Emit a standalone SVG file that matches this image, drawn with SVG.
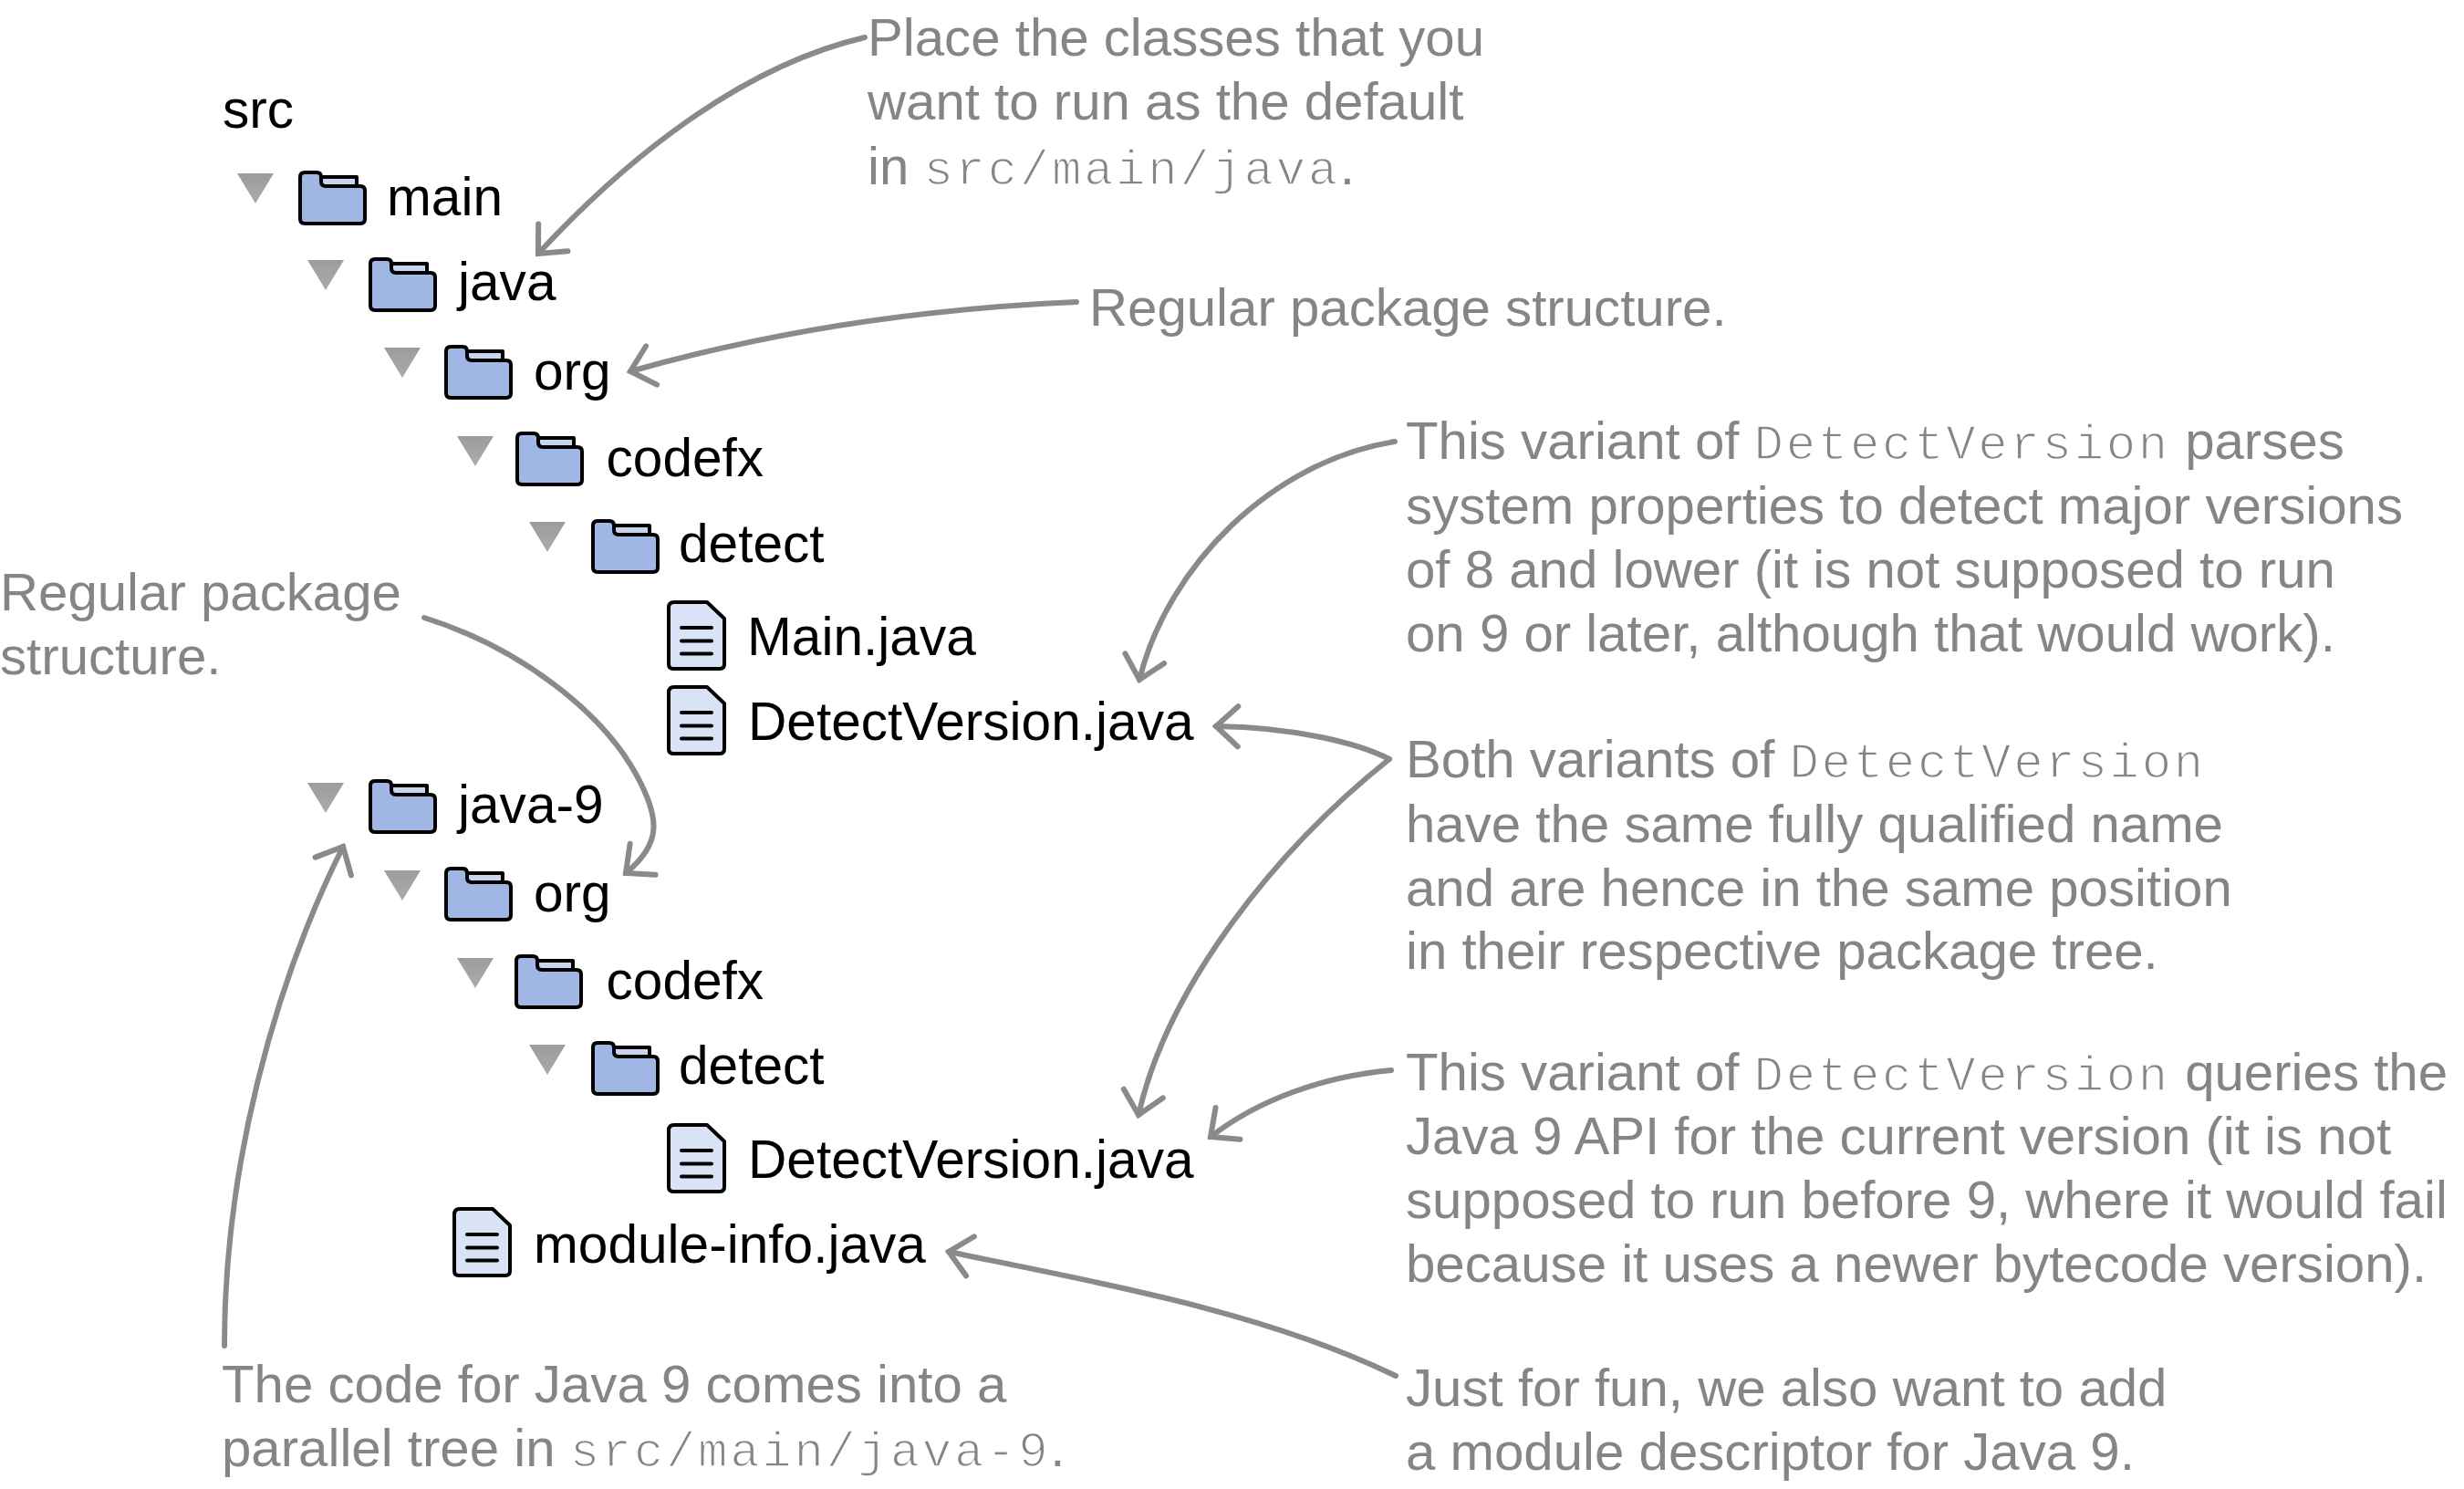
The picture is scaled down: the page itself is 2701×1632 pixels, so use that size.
<svg xmlns="http://www.w3.org/2000/svg" width="2701" height="1632" viewBox="0 0 2701 1632">
<style>
text{font-family:"Liberation Sans",Arial,sans-serif;font-size:58.2px}
.n{fill:#000;font-size:58.6px}
.a{fill:#858585}
.m{font-family:"Liberation Mono","Courier New",monospace;fill:#858585;stroke:#fff;stroke-width:1.500;font-size:54px;letter-spacing:2.700px}
.c{fill:none;stroke:#8a8a8a;stroke-width:6;stroke-linecap:round;marker-end:url(#h)}
.o{stroke:#000;stroke-width:4;stroke-linejoin:round}
</style>
<defs>
<marker id="h" markerUnits="userSpaceOnUse" markerWidth="60" markerHeight="60" refX="40" refY="30" orient="auto" viewBox="0 0 60 60"><path d="M16,8 L40,30 L16,52" fill="none" stroke="#8a8a8a" stroke-width="6" stroke-linecap="round" stroke-linejoin="miter"/></marker>
<linearGradient id="tg" x1="0" y1="0" x2="0" y2="1"><stop offset="0" stop-color="#9c9c9c"/><stop offset="1" stop-color="#ababab"/></linearGradient>
<g id="tri"><path d="M0,0H40L20,33Z" fill="url(#tg)"/></g>
<g id="folder">
<path class="o" d="M25,7H64V18H25Z" fill="#c9d5ef"/>
<path class="o" d="M7,2H20Q25,2 25,7V12Q25,17 30,17H68Q73,17 73,22V53Q73,58 68,58H7Q2,58 2,53V7Q2,2 7,2Z" fill="#a0b7e5"/>
</g>
<g id="file">
<path class="o" d="M8,2H44L63,20V70Q63,75 58,75H7Q2,75 2,70V8Q2,2 8,2Z" fill="#dae2f5"/>
<path d="M16,30H49M16,44.500H49M16,58.500H49" fill="none" stroke="#000" stroke-width="4" stroke-linecap="round"/>
</g>
</defs>
<rect width="2701" height="1632" fill="#fff"/>
<g id="connectors">
<path class="c" d="M948,41C815,72 690,170 590,278"/>
<path class="c" d="M1180,331C1015,338 850,362 691,407"/>
<path class="c" d="M1529,484C1395,505 1280,620 1249,745"/>
<path class="c" d="M1523,832C1490,815 1420,797 1333,796"/>
<path class="c" d="M1523,832C1400,930 1280,1080 1248,1222"/>
<path class="c" d="M1525,1173C1450,1180 1380,1205 1327,1246"/>
<path class="c" d="M1530,1508C1390,1440 1225,1410 1040,1372"/>
<path class="c" d="M246,1475C246,1280 300,1080 376,928"/>
<path class="c" d="M465,677C570,710 660,780 698,850C724,898 725,925 686,957"/>
</g>
<g id="src"><text class="n" x="244" y="140">src</text></g>
<g id="main"><use href="#tri" x="260" y="190"/><use href="#folder" x="327" y="187"/><text class="n" x="424" y="236">main</text></g>
<g id="java"><use href="#tri" x="337" y="285"/><use href="#folder" x="404" y="282"/><text class="n" x="502" y="329">java</text></g>
<g id="org"><use href="#tri" x="421" y="381"/><use href="#folder" x="487" y="378"/><text class="n" x="585" y="427">org</text></g>
<g id="codefx"><use href="#tri" x="501" y="478"/><use href="#folder" x="565" y="473"/><text class="n" x="664.500" y="521.500">codefx</text></g>
<g id="detect"><use href="#tri" x="580" y="572"/><use href="#folder" x="648" y="569"/><text class="n" x="744" y="616">detect</text></g>
<g id="main-java"><use href="#file" x="731" y="658"/><text class="n" x="819" y="718">Main.java</text></g>
<g id="detectversion-java"><use href="#file" x="731" y="751"/><text class="n" x="820" y="811">DetectVersion.java</text></g>
<g id="java-9"><use href="#tri" x="337" y="858"/><use href="#folder" x="404" y="854"/><text class="n" x="502" y="902">java-9</text></g>
<g id="org-9"><use href="#tri" x="421" y="954"/><use href="#folder" x="487" y="950"/><text class="n" x="585" y="999">org</text></g>
<g id="codefx-9"><use href="#tri" x="501" y="1050"/><use href="#folder" x="564" y="1046"/><text class="n" x="664.500" y="1095">codefx</text></g>
<g id="detect-9"><use href="#tri" x="580" y="1145"/><use href="#folder" x="648" y="1141"/><text class="n" x="744" y="1188">detect</text></g>
<g id="detectversion-java-9"><use href="#file" x="731" y="1231"/><text class="n" x="820" y="1291">DetectVersion.java</text></g>
<g id="module-info"><use href="#file" x="496" y="1323"/><text class="n" x="585" y="1384">module-info.java</text></g>
<g id="note-default"><text class="a" x="951" y="61">Place the classes that you</text><text class="a" x="951" y="131">want to run as the default</text><text class="a" x="951" y="202">in <tspan class="m">src/main/java</tspan>.</text></g>
<g id="note-package"><text class="a" x="1194" y="357">Regular package structure.</text></g>
<g id="note-variant8"><text class="a" x="1541" y="503">This variant of <tspan class="m">DetectVersion</tspan> parses</text><text class="a" x="1541" y="574">system properties to detect major versions</text><text class="a" x="1541" y="644">of 8 and lower (it is not supposed to run</text><text class="a" x="1541" y="714">on 9 or later, although that would work).</text></g>
<g id="note-both"><text class="a" x="1541" y="852">Both variants of <tspan class="m">DetectVersion</tspan></text><text class="a" x="1541" y="923">have the same fully qualified name</text><text class="a" x="1541" y="993">and are hence in the same position</text><text class="a" x="1541" y="1062">in their respective package tree.</text></g>
<g id="note-variant9"><text class="a" x="1541" y="1195">This variant of <tspan class="m">DetectVersion</tspan> queries the</text><text class="a" x="1541" y="1265">Java 9 API for the current version (it is not</text><text class="a" x="1541" y="1335">supposed to run before 9, where it would fail</text><text class="a" x="1541" y="1405">because it uses a newer bytecode version).</text></g>
<g id="note-module"><text class="a" x="1541" y="1541">Just for fun, we also want to add</text><text class="a" x="1541" y="1611">a module descriptor for Java 9.</text></g>
<g id="note-left"><text class="a" x="0" y="669">Regular package</text><text class="a" x="0" y="739">structure.</text></g>
<g id="note-tree"><text class="a" x="243" y="1537">The code for Java 9 comes into a</text><text class="a" x="243" y="1607">parallel tree in <tspan class="m">src/main/java-9</tspan>.</text></g>
</svg>
